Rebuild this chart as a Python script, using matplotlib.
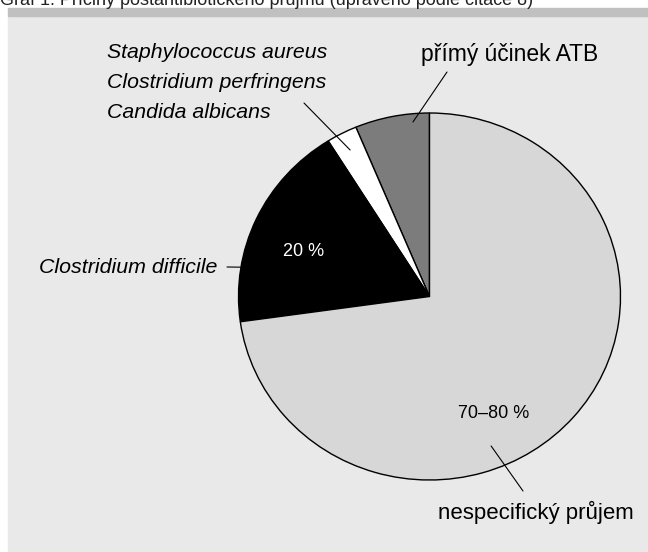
import numpy as np
import matplotlib
matplotlib.use("Agg")
import matplotlib.pyplot as plt
from matplotlib.patches import Rectangle

plt.rcParams['font.family'] = ['Liberation Sans', 'DejaVu Sans']

# share of each cause (%)
labels = ['přímý účinek ATB',
          'Staphylococcus aureus\nClostridium perfringens\nCandida albicans',
          'Clostridium difficile',
          'nespecifický průjem']
shares = [6.3, 2.6, 18.3, 72.8]
colors = ['#7b7c7b', '#ffffff', '#000000', '#d7d7d7']
inner_labels = ['', '', '20 %', '70–80 %']

W, H = 648, 552
fig = plt.figure(figsize=(W / 100, H / 100), dpi=100)
fig.patch.set_facecolor('white')

def px(x, y):
    # pixel position (from top-left) -> figure fraction
    return (x / W, 1 - y / H)

# page decoration: gray strip and panel background
fig.patches.append(Rectangle(px(8, 552), (W - 8) / W, 537 / H,
                             transform=fig.transFigure, color='#e9e9e9', zorder=-10))
fig.patches.append(Rectangle(px(8, 16), (W - 8) / W, 8 / H,
                             transform=fig.transFigure, color='#c0c0c0', zorder=-10))
# caption, cut off at the top edge like in the scan
fig.text(*px(0, 5), 'Graf 1. Příčiny postantibiotického průjmu (upraveno podle citace 8)',
         fontsize=13, va='baseline', ha='left', color='#222222')

# pie (slightly wider than tall, as in the scan)
cx, cy, rx, ry = 429.5, 296.5, 191, 183.5
ax = fig.add_axes([(cx - rx) / W, (H - cy - ry) / H, 2 * rx / W, 2 * ry / H])
wedges, _ = ax.pie(shares, colors=colors, startangle=90, counterclock=True,
                   wedgeprops=dict(edgecolor='black', linewidth=1.0))
ax.set_aspect('auto')
ax.set_xlim(-1, 1)
ax.set_ylim(-1, 1)
ax.axis('off')

def polar(angle_deg, r):
    a = np.deg2rad(angle_deg)
    return (r * np.cos(a), r * np.sin(a))

# leader lines: (angle, radius) on the pie -> label end in pixels
leaders = [((95.2, 0.955), (447, 72)),
           ((117.5, 0.90), (304, 103)),
           ((170.8, 1.0), (227, 267)),
           ((291.6, 0.876), (523, 491))]
for (ang, r), end in leaders:
    ax.annotate('', xy=polar(ang, r), xycoords='data',
                xytext=px(*end), textcoords='figure fraction',
                arrowprops=dict(arrowstyle='-', color='black', lw=0.8,
                                shrinkA=0, shrinkB=0))

fig.text(*px(510, 61), labels[0], fontsize=16.5, ha='center', va='baseline')
for i, line in enumerate(labels[1].split('\n')):
    fig.text(*px(107, 58 + 30 * i), line, fontsize=15.3, style='italic',
             ha='left', va='baseline')
fig.text(*px(217, 273), labels[2], fontsize=15.4, style='italic', ha='right', va='baseline')
fig.text(*px(536, 519), labels[3], fontsize=16, ha='center', va='baseline')

ax.text(-0.661, 0.243, inner_labels[2], color='white', fontsize=13, ha='center', va='center')
ax.text(0.338, -0.640, inner_labels[3], color='black', fontsize=13, ha='center', va='center')

fig.savefig('out.png', dpi=100)
